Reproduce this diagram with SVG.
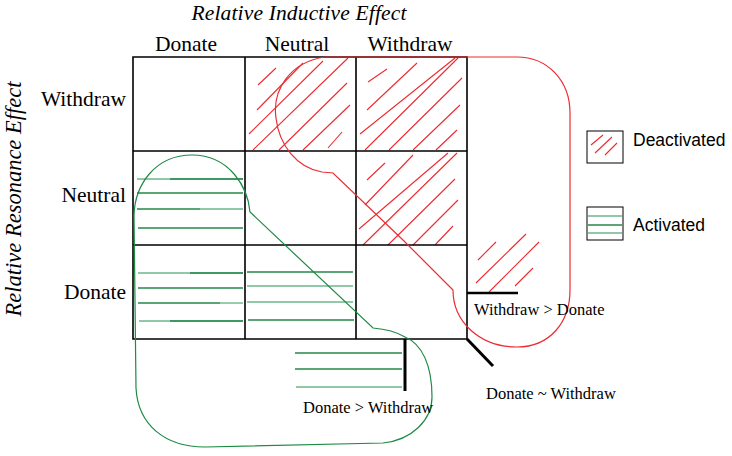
<svg xmlns="http://www.w3.org/2000/svg" width="732" height="456" viewBox="0 0 732 456">
<style>
.t{font-family:"Liberation Serif","Times New Roman",serif;fill:#000}
.big{font-size:21.5px}
.ttl{font-size:21.5px;font-style:italic}
.sm{font-size:16.5px}
.sans{font-family:"Liberation Sans",Arial,sans-serif;font-size:17.5px;fill:#000}
.grid{stroke:#000;stroke-width:1.6;fill:none}
.thick{stroke:#000;stroke-width:3;fill:none}
.rh{stroke:#ee2a30;stroke-width:1.1;fill:none}
.gh{stroke:#24874a;stroke-width:1.4;fill:none}
.gl{stroke:#6db68a;stroke-width:1.4;fill:none}
.rout{stroke:#ee2a30;stroke-width:1.2;fill:none}
.gout{stroke:#1e8a45;stroke-width:1.2;fill:none}
</style>
<rect width="732" height="456" fill="#fff"/>

<g id="titles">
<text class="t ttl" x="299" y="19.5" text-anchor="middle" style="letter-spacing:0.15px">Relative Inductive Effect</text>
<text class="t ttl" transform="translate(21,199) rotate(-90)" text-anchor="middle" style="font-size:22.5px">Relative Resonance Effect</text>
</g>

<g id="headers">
<text class="t big" x="186" y="51" text-anchor="middle">Donate</text>
<text class="t big" x="297" y="51" text-anchor="middle">Neutral</text>
<text class="t big" x="410" y="51" text-anchor="middle">Withdraw</text>
<text class="t big" x="126" y="106" text-anchor="end">Withdraw</text>
<text class="t big" x="126" y="202" text-anchor="end">Neutral</text>
<text class="t big" x="126" y="299" text-anchor="end">Donate</text>
</g>

<g id="red-hatch">
<path class="rh" d="M258,85 L276,68 M257,110 L303,63 M249,134 L323,61 M253,150 L348,58 M279,150 L347,83 M303,150 L350,105 M328,148 L342,132"/>
<path class="rh" d="M368,82 L387,69 M367,110 L417,63 M360,134 L455,58 M365,150 L458,58 M389,150 L462,78 M413,150 L460,105 M436,150 L457,130"/>
<path class="rh" d="M367,180 L385,163 M365,205 L413,155 M359,229 L448,153 M363,245 L457,153 M388,245 L455,179 M413,245 L458,200 M435,245 L453,226"/>
<path class="rh" d="M478,260 L496,242 M476,283 L526,234 M489,292 L539,242 M515,286 L533,268"/>
</g>

<g id="green-hatch">
<path class="gl" d="M137,179 L243,179"/><path class="gh" d="M170,179 L243,179"/>
<path class="gh" d="M137,193 L243,193"/>
<path class="gh" d="M137,209 L200,209"/><path class="gl" d="M200,209 L243,209"/>
<path class="gh" d="M138,228 L243,228"/>
<path class="gl" d="M138,273 L243,273"/><path class="gh" d="M190,273 L243,273"/>
<path class="gh" d="M138,288 L243,288"/>
<path class="gh" d="M138,303 L220,303"/><path class="gl" d="M220,303 L243,303"/>
<path class="gl" d="M139,321 L243,321"/><path class="gh" d="M170,321 L243,321"/>
<path class="gh" d="M247,272 L353,272"/>
<path class="gl" d="M247,286 L353,286"/>
<path class="gl" d="M247,302 L353,302"/>
<path class="gh" d="M248,320 L354,320"/>
<path class="gh" d="M295,353 L402,353"/>
<path class="gh" d="M295,369 L402,369"/>
<path class="gl" d="M296,387 L402,387"/>
</g>

<g id="grid">
<path class="grid" d="M133,57 L467,57 L467,339 L133,339 Z"/>
<path class="grid" d="M245,57 L245,339 M356,57 L356,339 M133,151 L467,151 M133,245 L467,245"/>
</g>

<g id="connectors">
<path class="rout" d="M325,57 C290,62 272,90 276,118 C279,145 297,168 322,172 L333,173 L403,240 L453,290 C453,322 480,347 517,347 C550,347 570,322 570,290 L570,113 C570,80 547,57 517,57 Z"/>
<path class="gout" d="M250,212 C248,188 230,155 192,155 C155,155 135,185 134,215 L136,388 C138,425 165,447 205,447 L383,443 C412,440 432,420 432,397 C432,365 422,344 405,337 C395,331 385,329 373,328 Z"/>
<path class="thick" d="M467,293 L518,293" style="stroke-width:2.5"/>
<path class="thick" d="M405,339 L405,391"/>
<path class="thick" d="M467,339 L493,366"/>
</g>

<g id="boundary-labels">
<text class="t sm" x="474" y="315">Withdraw &gt; Donate</text>
<text class="t sm" x="303" y="413">Donate &gt; Withdraw</text>
<text class="t sm" x="486" y="399">Donate ~ Withdraw</text>
</g>

<g id="legend-deactivated">
<rect x="587" y="131" width="36" height="32" fill="#fff" stroke="#000" stroke-width="1"/>
<path class="rh" d="M591,145 L603,135 M595,153 L612,137 M605,155 L617,143"/>
<text class="sans" x="633" y="146">Deactivated</text>
</g>

<g id="legend-activated">
<rect x="587" y="207" width="36" height="33" fill="#fff" stroke="#000" stroke-width="1"/>
<path class="gl" d="M588,216 L622,216 M588,233 L622,233"/>
<path class="gh" d="M588,225 L622,225"/>
<text class="sans" x="633" y="231">Activated</text>
</g>
</svg>
